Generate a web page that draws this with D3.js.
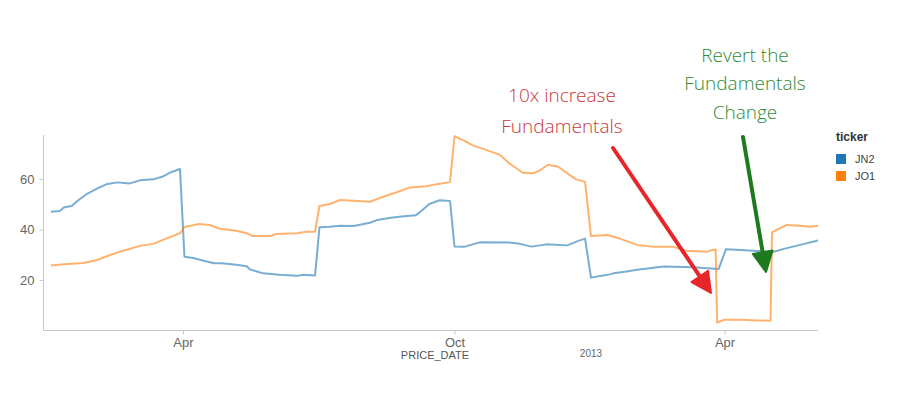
<!DOCTYPE html>
<html>
<head>
<meta charset="utf-8">
<script src="https://cdn.jsdelivr.net/npm/d3@7"></script>
<style>
  body { margin: 0; background: #fff; }
  svg { display: block; }
</style>
</head>
<body>
<script>
// chart values
var jn2Dates = ["2012-01-03","2012-01-09","2012-01-12","2012-01-17","2012-01-21","2012-01-27","2012-02-03","2012-02-10","2012-02-17","2012-02-25","2012-03-03","2012-03-12","2012-03-18","2012-03-23","2012-03-30",
  "2012-04-02","2012-04-08","2012-04-15","2012-04-22","2012-04-27","2012-05-07","2012-05-14","2012-05-16","2012-05-25","2012-06-05","2012-06-17","2012-06-21","2012-06-29",
  "2012-07-02","2012-07-09","2012-07-16","2012-07-25","2012-08-05","2012-08-10","2012-08-19","2012-08-28","2012-09-05","2012-09-08","2012-09-14","2012-09-21","2012-09-28",
  "2012-10-01","2012-10-08","2012-10-18","2012-11-07","2012-11-14","2012-11-22","2012-12-02","2012-12-16","2012-12-23","2012-12-28",
  "2013-01-01","2013-01-12","2013-01-16","2013-01-25","2013-02-01","2013-02-19","2013-03-11","2013-03-28",
  "2013-04-02","2013-04-12","2013-04-23","2013-05-04","2013-05-13","2013-05-22","2013-06-03"];
var jn2Values = [47, 47.3, 48.8, 49.3, 51.4, 54, 56.2, 58.1, 58.7, 58.3, 59.5, 59.9, 60.9, 62.5, 64,
  29.2, 28.7, 27.6, 26.6, 26.6, 26, 25.4, 24.2, 22.6, 22, 21.6, 22, 21.7,
  40.9, 41.1, 41.5, 41.4, 42.7, 43.8, 44.7, 45.3, 45.7, 47, 50.1, 51.6, 51.3,
  33.3, 33.2, 34.9, 34.8, 34.3, 33.2, 34.1, 33.7, 35.4, 36.4,
  20.9, 22, 22.6, 23.3, 24, 25.3, 25, 24.3,
  32.2, 31.9, 31.5, 31.2, 32.6, 33.9, 35.6];

var jo1Dates = ["2012-01-03","2012-01-14","2012-01-25","2012-02-03","2012-02-12","2012-02-20","2012-03-03","2012-03-12","2012-03-21","2012-03-30",
  "2012-04-02","2012-04-12","2012-04-19","2012-04-26","2012-05-07","2012-05-14","2012-05-18","2012-05-30","2012-06-03","2012-06-17","2012-06-23","2012-06-29",
  "2012-07-02","2012-07-09","2012-07-16","2012-07-25","2012-08-05","2012-08-14","2012-08-25","2012-09-01","2012-09-12","2012-09-19","2012-09-28",
  "2012-10-01","2012-10-07","2012-10-14","2012-10-21","2012-11-01","2012-11-07","2012-11-16","2012-11-23","2012-11-28","2012-12-03","2012-12-10","2012-12-16","2012-12-22","2012-12-28",
  "2013-01-01","2013-01-12","2013-01-20","2013-02-01","2013-02-12","2013-02-25","2013-03-06","2013-03-20","2013-03-24","2013-03-26",
  "2013-03-27","2013-04-01","2013-04-12","2013-04-23","2013-05-02",
  "2013-05-03","2013-05-06","2013-05-13","2013-05-22","2013-05-29","2013-06-03"];
var jo1Values = [25.7, 26.3, 26.7, 27.9, 29.9, 31.5, 33.5, 34.3, 36.5, 38.5,
  41, 42.2, 41.8, 40.3, 39.5, 38.5, 37.4, 37.4, 38.2, 38.5, 39.1, 39.1,
  49.3, 50.1, 51.7, 51.4, 51, 53, 55.2, 56.7, 57.2, 58, 58.8,
  77, 75.4, 73.2, 71.9, 69.5, 66.2, 62.5, 62.3, 63.6, 65.7, 64.9, 62.3, 59.9, 58.9,
  37.4, 37.8, 36.5, 33.9, 33.2, 33.2, 31.6, 31.2, 31.9, 32.1,
  3.1, 4.2, 4.2, 3.9, 3.8,
  38.9, 39.8, 41.8, 41.5, 41.1, 41.5];

var tickers = ["JN2", "JO1"];
var colors = ["#1f77b4", "#ff7f0e"];
var xTickDates = ["2012-04-01", "2012-10-01", "2013-04-01"];
var xTickLabels = ["Apr", "Oct", "Apr"];
var yTicks = [20, 40, 60];
var yearLabel = { date: "2013-01-01", text: "2013" };

var width = 898, height = 393;
var parse = d3.timeParse("%Y-%m-%d");

var svg = d3.select("body").append("svg")
  .attr("width", width)
  .attr("height", height);

var x = d3.scaleTime()
  .domain([parse("2011-12-29"), parse("2013-06-03")])
  .range([43.5, 818]);

var y = d3.scaleLinear()
  .domain([0, 77.5])
  .range([330.3, 135]);

var series = [
  { name: tickers[0], dates: jn2Dates, values: jn2Values, color: colors[0] },
  { name: tickers[1], dates: jo1Dates, values: jo1Values, color: colors[1] }
];

// axes
var xAxis = d3.axisBottom(x)
  .tickValues(xTickDates.map(parse))
  .tickFormat(function(d, i) { return xTickLabels[i]; })
  .tickSize(4)
  .tickPadding(3);

var yAxis = d3.axisLeft(y)
  .tickValues(yTicks)
  .tickSize(4)
  .tickPadding(5);

var gx = svg.append("g")
  .attr("transform", "translate(0,330.5)")
  .call(xAxis);
gx.select(".domain").attr("d", "M43.5,0H818");

var gy = svg.append("g")
  .attr("transform", "translate(43.5,0)")
  .call(yAxis);
gy.select(".domain").attr("d", "M0,135V330.5");

svg.selectAll(".domain, .tick line").attr("stroke", "#c8c8c8");
svg.selectAll(".tick text")
  .attr("fill", "#666")
  .style("font-family", "Liberation Sans, Arial, sans-serif")
  .style("font-size", "13px");

svg.append("text")
  .attr("x", x(parse(yearLabel.date)))
  .attr("y", 357)
  .attr("text-anchor", "middle")
  .attr("fill", "#666")
  .style("font-family", "Liberation Sans, Arial, sans-serif")
  .style("font-size", "10px")
  .text(yearLabel.text);

svg.append("text")
  .attr("x", 435)
  .attr("y", 359)
  .attr("text-anchor", "middle")
  .attr("fill", "#555")
  .style("font-family", "Liberation Sans, Arial, sans-serif")
  .style("font-size", "11px")
  .text("PRICE_DATE");

// lines
var line = d3.line()
  .x(function(d) { return x(d.date); })
  .y(function(d) { return y(d.value); });

series.forEach(function(s) {
  var pts = s.dates.map(function(d, i) { return { date: parse(d), value: s.values[i] }; });
  svg.append("path")
    .datum(pts)
    .attr("fill", "none")
    .attr("stroke", s.color)
    .attr("stroke-opacity", 0.6)
    .attr("stroke-width", 2)
    .attr("stroke-linejoin", "round")
    .attr("d", line);
});

// legend
var legend = svg.append("g").attr("transform", "translate(836,0)");
legend.append("text")
  .attr("x", 0).attr("y", 141)
  .style("font-family", "Liberation Sans, Arial, sans-serif")
  .style("font-size", "12px")
  .style("font-weight", "bold")
  .attr("fill", "#333")
  .text("ticker");
tickers.forEach(function(t, i) {
  legend.append("rect")
    .attr("x", 0).attr("y", 154 + i * 17)
    .attr("width", 10).attr("height", 10)
    .attr("fill", colors[i]);
  legend.append("text")
    .attr("x", 19).attr("y", 163 + i * 17)
    .style("font-family", "Liberation Sans, Arial, sans-serif")
    .style("font-size", "11px")
    .attr("fill", "#444")
    .text(t);
});

// annotations
function note(lines, cx, y0, dy, color) {
  lines.forEach(function(l, i) {
    svg.append("text")
      .attr("x", cx).attr("y", y0 + i * dy)
      .attr("text-anchor", "middle")
      .attr("fill", color)
      .style("font-family", "Open Sans, sans-serif")
      .style("font-weight", "300")
      .style("font-size", "19px")
      .text(l);
  });
}
note(["10x increase", "Fundamentals"], 562, 102, 30.5, "#c9383a");
note(["Revert the", "Fundamentals", "Change"], 745, 62, 28.3, "#2f8a34");

function arrow(x1, y1, x2, y2, color) {
  var ang = Math.atan2(y2 - y1, x2 - x1);
  var len = 20, half = 10;
  var bx = x2 - len * Math.cos(ang), by = y2 - len * Math.sin(ang);
  svg.append("line")
    .attr("x1", x1).attr("y1", y1).attr("x2", bx).attr("y2", by)
    .attr("stroke", color).attr("stroke-width", 4).attr("stroke-linecap", "round");
  var px = -Math.sin(ang) * half, py = Math.cos(ang) * half;
  svg.append("path")
    .attr("d", "M" + x2 + "," + y2 + "L" + (bx + px) + "," + (by + py) + "L" + (bx - px) + "," + (by - py) + "Z")
    .attr("fill", color)
    .attr("stroke", color)
    .attr("stroke-width", 2)
    .attr("stroke-linejoin", "round");
}
arrow(613, 148, 711, 293, "#e8262a");
arrow(743, 137, 766, 272, "#1e7a1e");
</script>
</body>
</html>
